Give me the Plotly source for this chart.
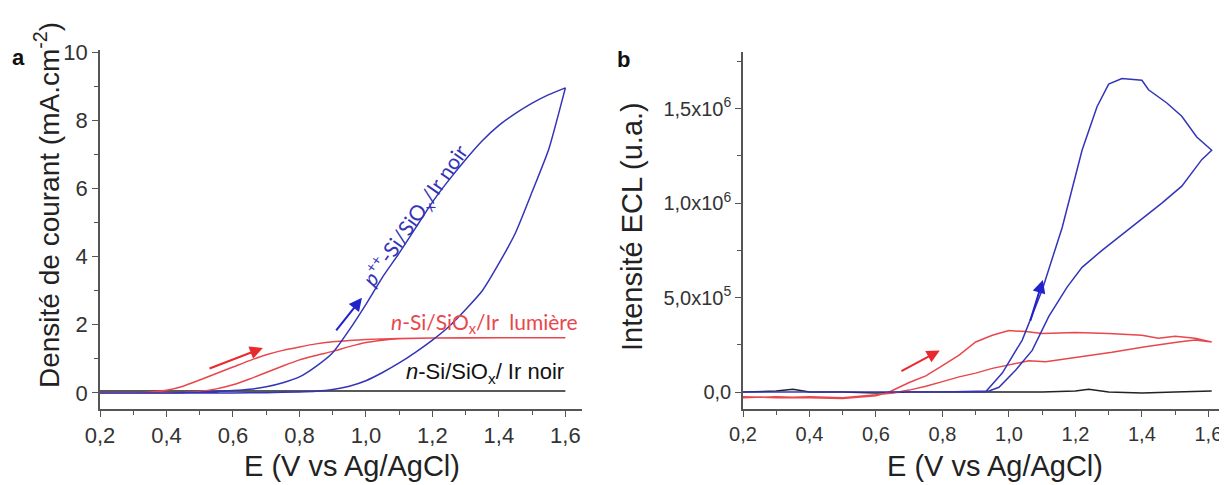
import plotly.graph_objects as go

# ---------------- Panel a : current density (mA.cm-2) ----------------
E_a_blue_fwd = [0.2, 0.3, 0.4, 0.5, 0.6, 0.65, 0.7, 0.75, 0.8, 0.85, 0.9, 0.95, 1.0, 1.05, 1.1,
                1.15, 1.2, 1.25, 1.3, 1.35, 1.4, 1.45, 1.5, 1.55, 1.6]
J_a_blue_fwd = [0, 0, 0, 0.02, 0.07, 0.11, 0.18, 0.3, 0.47, 0.78, 1.18, 1.85, 2.6, 3.4, 4.1,
                4.85, 5.6, 6.25, 6.85, 7.4, 7.85, 8.2, 8.5, 8.75, 8.95]
E_a_blue_rev = [1.6, 1.55, 1.5, 1.45, 1.4, 1.35, 1.3, 1.25, 1.2, 1.15, 1.1, 1.05, 1.0, 0.95,
                0.9, 0.85, 0.8, 0.7, 0.6, 0.4, 0.2]
J_a_blue_rev = [8.95, 7.15, 5.9, 4.7, 3.8, 3.0, 2.45, 1.95, 1.55, 1.2, 0.88, 0.6, 0.36, 0.2,
                0.1, 0.05, 0.03, 0.01, 0, 0, 0]

E_a_red_fwd = [0.2, 0.3, 0.35, 0.4, 0.45, 0.5, 0.55, 0.6, 0.65, 0.7, 0.75, 0.8, 0.85, 0.9,
               0.95, 1.0, 1.1, 1.2, 1.4, 1.6]
J_a_red_fwd = [0, 0, 0.02, 0.08, 0.2, 0.38, 0.57, 0.76, 0.95, 1.12, 1.25, 1.35, 1.44, 1.5,
               1.54, 1.57, 1.6, 1.61, 1.62, 1.62]
E_a_red_rev = [1.6, 1.4, 1.2, 1.1, 1.05, 1.0, 0.95, 0.9, 0.85, 0.8, 0.75, 0.7, 0.65, 0.6,
               0.55, 0.5, 0.45, 0.4, 0.3, 0.2]
J_a_red_rev = [1.62, 1.62, 1.61, 1.59, 1.55, 1.48, 1.36, 1.22, 1.1, 0.97, 0.79, 0.6, 0.41,
               0.24, 0.12, 0.04, 0.01, 0, 0, 0]

E_a_black = [0.2, 1.6]
J_a_black = [0.06, 0.06]

# ---------------- Panel b : ECL intensity (u.a.) ----------------
E_b_blue_fwd = [0.2, 0.4, 0.6, 0.8, 0.93, 0.98, 1.04, 1.10, 1.16, 1.22, 1.265, 1.30, 1.34,
                1.40, 1.42, 1.475, 1.52, 1.565, 1.61]
I_b_blue_fwd = [0, 0, 0, 0, 0.01e5, 1.0e5, 2.75e5, 5.4e5, 8.7e5, 12.8e5, 15.1e5, 16.3e5,
                16.6e5, 16.5e5, 16.0e5, 15.3e5, 14.6e5, 13.5e5, 12.8e5]
E_b_blue_rev = [1.61, 1.58, 1.52, 1.46, 1.37, 1.28, 1.22, 1.175, 1.12, 1.07, 1.02, 0.97,
                0.94, 0.8, 0.6, 0.4, 0.2]
I_b_blue_rev = [12.8e5, 12.3e5, 10.9e5, 10.0e5, 8.75e5, 7.5e5, 6.6e5, 5.55e5, 4.0e5, 2.2e5,
                1.15e5, 0.25e5, 0.05e5, 0, 0, 0, 0]

E_b_red_fwd = [0.2, 0.3, 0.4, 0.5, 0.6, 0.64, 0.7, 0.75, 0.8, 0.85, 0.9, 0.95, 1.0, 1.05,
               1.1, 1.2, 1.3, 1.4, 1.45, 1.5, 1.56, 1.61]
I_b_red_fwd = [-0.3e5, -0.25e5, -0.3e5, -0.35e5, -0.2e5, 0.0, 0.5e5, 0.85e5, 1.4e5, 1.95e5,
               2.65e5, 3.0e5, 3.25e5, 3.2e5, 3.1e5, 3.15e5, 3.1e5, 3.0e5, 2.85e5, 2.95e5,
               2.85e5, 2.65e5]
E_b_red_rev = [1.61, 1.56, 1.51, 1.41, 1.31, 1.21, 1.11, 1.06, 1.01, 0.95, 0.9, 0.85, 0.8,
               0.75, 0.7, 0.65, 0.6, 0.5, 0.4, 0.3, 0.2]
I_b_red_rev = [2.65e5, 2.75e5, 2.65e5, 2.4e5, 2.1e5, 1.85e5, 1.6e5, 1.65e5, 1.45e5, 1.25e5,
               1.0e5, 0.8e5, 0.55e5, 0.3e5, 0.1e5, -0.05e5, -0.15e5, -0.3e5, -0.25e5,
               -0.3e5, -0.25e5]

E_b_black = [0.2, 0.3, 0.35, 0.4, 0.5, 0.6, 0.7, 0.8, 0.9, 1.0, 1.1, 1.2, 1.24, 1.3, 1.4,
             1.5, 1.6, 1.61]
I_b_black = [0.0, 0.05e5, 0.15e5, 0.0, 0.0, -0.05e5, 0.0, 0.0, 0.02e5, 0.0, 0.0, 0.05e5,
             0.15e5, 0.0, -0.05e5, 0.0, 0.05e5, 0.05e5]

# tick labels
x_ticks = [0.2, 0.4, 0.6, 0.8, 1.0, 1.2, 1.4, 1.6]
x_ticktext = ["0,2", "0,4", "0,6", "0,8", "1,0", "1,2", "1,4", "1,6"]
ya_ticks = [0, 2, 4, 6, 8, 10]
ya_ticktext = ["0", "2", "4", "6", "8", "10"]
yb_ticks = [0, 5e5, 1e6, 1.5e6]
yb_ticktext = ["0,0", "5,0x10<sup>5</sup>", "1,0x10<sup>6</sup>", "1,5x10<sup>6</sup>"]

BLUE = "#3434b8"
RED = "#e8474c"
BLACK = "#222222"
AXIS = "#555555"
TXT = "#333333"
FONT = "Liberation Sans, Arial, sans-serif"

W, H = 1227, 485
OFF = 8  # page body margin of the rendered html


def px_x(p):
    return (p - OFF) / W


def px_y(p):
    return 1 - (p - OFF) / H


fig = go.Figure()

line_w = 1.5
# panel a
fig.add_trace(go.Scatter(x=E_a_black, y=J_a_black, mode="lines", line=dict(color=BLACK, width=line_w),
                         xaxis="x", yaxis="y"))
fig.add_trace(go.Scatter(x=E_a_red_fwd + E_a_red_rev, y=J_a_red_fwd + J_a_red_rev, mode="lines",
                         line=dict(color=RED, width=line_w, shape="spline", smoothing=0.6),
                         xaxis="x", yaxis="y"))
fig.add_trace(go.Scatter(x=E_a_blue_fwd + E_a_blue_rev, y=J_a_blue_fwd + J_a_blue_rev, mode="lines",
                         line=dict(color=BLUE, width=line_w, shape="spline", smoothing=0.5),
                         xaxis="x", yaxis="y"))
# panel b
fig.add_trace(go.Scatter(x=E_b_black, y=I_b_black, mode="lines", line=dict(color=BLACK, width=line_w),
                         xaxis="x2", yaxis="y2"))
fig.add_trace(go.Scatter(x=E_b_red_fwd + E_b_red_rev, y=I_b_red_fwd + I_b_red_rev, mode="lines",
                         line=dict(color=RED, width=line_w), xaxis="x2", yaxis="y2"))
fig.add_trace(go.Scatter(x=E_b_blue_fwd + E_b_blue_rev, y=I_b_blue_fwd + I_b_blue_rev, mode="lines",
                         line=dict(color=BLUE, width=line_w), xaxis="x2", yaxis="y2"))

axis_common = dict(showgrid=False, zeroline=False, showline=True, linecolor=AXIS, linewidth=1.5,
                   ticks="outside", ticklen=6, tickwidth=1.2, tickcolor=AXIS, automargin=False,
                   mirror=False)
font_a = dict(family=FONT, size=22, color=TXT)
font_b = dict(family=FONT, size=20, color=TXT)

fig.update_layout(
    width=W, height=H, margin=dict(l=0, r=0, t=0, b=0, autoexpand=False),
    paper_bgcolor="white", plot_bgcolor="white", showlegend=False,
    xaxis=dict(domain=[px_x(100), px_x(582)], range=[0.2, 1.65], tickvals=x_ticks, ticktext=x_ticktext,
               anchor="y", tickfont=font_a,
               minor=dict(ticks="outside", ticklen=4, tickcolor=AXIS, dtick=0.1, tick0=0.2),
               **axis_common),
    yaxis=dict(domain=[px_y(409), px_y(50)], range=[-0.47, 10.06], tickvals=ya_ticks, ticktext=ya_ticktext,
               anchor="x", tickfont=font_a,
               minor=dict(ticks="outside", ticklen=4, tickcolor=AXIS, dtick=1, tick0=0),
               **axis_common),
    xaxis2=dict(domain=[px_x(743), px_x(1225)], range=[0.2, 1.65], tickvals=x_ticks, ticktext=x_ticktext,
                anchor="y2", tickfont=font_b,
                minor=dict(ticks="outside", ticklen=4, tickcolor=AXIS, dtick=0.1, tick0=0.2),
                **axis_common),
    yaxis2=dict(domain=[px_y(409), px_y(52)], range=[-0.9e5, 1.8e6], tickvals=yb_ticks, ticktext=yb_ticktext,
                anchor="x2", tickfont=font_b,
                minor=dict(ticks="outside", ticklen=4, tickcolor=AXIS, dtick=2.5e5, tick0=0),
                **axis_common),
)

C = dict(xanchor="center", yanchor="middle", showarrow=False)
ann = []
# panel letters
ann.append(dict(text="<b>a</b>", x=px_x(18), y=px_y(58), xref="paper", yref="paper",
                font=dict(family=FONT, size=22, color="#111"), **C))
ann.append(dict(text="<b>b</b>", x=px_x(623), y=px_y(60), xref="paper", yref="paper",
                font=dict(family=FONT, size=22, color="#111"), **C))
# axis titles
ann.append(dict(text="Densité de courant (mA.cm<sup>-2</sup>)", x=px_x(47), y=px_y(205), xref="paper",
                yref="paper", textangle=-90, font=dict(family=FONT, size=28, color="#222"), **C))
ann.append(dict(text="Intensité ECL (u.a.)", x=px_x(632), y=px_y(227), xref="paper",
                yref="paper", textangle=-90, font=dict(family=FONT, size=29, color="#222"), **C))
ann.append(dict(text="E (V vs Ag/AgCl)", x=px_x(352), y=px_y(466), xref="paper", yref="paper",
                font=dict(family=FONT, size=29, color="#222"), **C))
ann.append(dict(text="E (V vs Ag/AgCl)", x=px_x(995), y=px_y(466), xref="paper", yref="paper",
                font=dict(family=FONT, size=29, color="#222"), **C))
# curve labels
ann.append(dict(text="<i>p</i><sup>++</sup>-Si/SiO<sub>x</sub>/Ir noir", x=1.147, y=5.24, xref="x", yref="y",
                textangle=-55, font=dict(family="Lato, sans-serif", size=21, color=BLUE), **C))
ann.append(dict(text="<i>n</i>-Si/SiO<sub>x</sub>/Ir  lumière", x=1.358, y=2.06, xref="x", yref="y",
                font=dict(family="Lato, sans-serif", size=21, color=RED), **C))
ann.append(dict(text="<i>n</i>-Si/SiO<sub>x</sub>/ Ir noir", x=1.358, y=0.59, xref="x", yref="y",
                font=dict(family=FONT, size=22, color="#111"), **C))
# arrows
A = dict(text="", showarrow=True, arrowhead=2, arrowsize=1.3, arrowwidth=2)
ann.append(dict(x=0.69, y=1.32, ax=0.525, ay=0.7, xref="x", yref="y", axref="x", ayref="y",
                arrowcolor="#e82a2e", **A))
ann.append(dict(x=0.988, y=2.79, ax=0.907, ay=1.79, xref="x", yref="y", axref="x", ayref="y",
                arrowcolor="#2222cc", **A))
ann.append(dict(x=0.792, y=2.2e5, ax=0.672, ay=1.06e5, xref="x2", yref="y2", axref="x2", ayref="y2",
                arrowcolor="#e82a2e", **A))
ann.append(dict(x=1.102, y=5.93e5, ax=1.063, ay=3.7e5, xref="x2", yref="y2", axref="x2", ayref="y2",
                arrowcolor="#2222cc", **A))
fig.update_layout(annotations=ann)

fig.write_html("out.html")
